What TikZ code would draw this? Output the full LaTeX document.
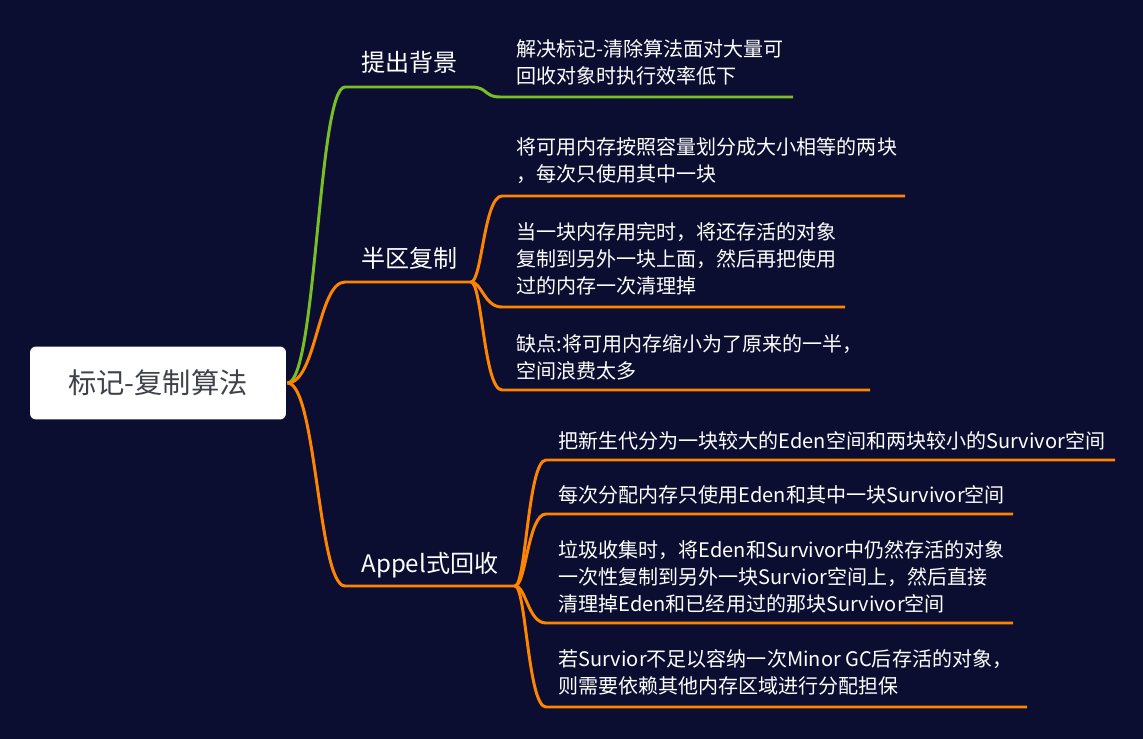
\documentclass[tikz,border=0pt]{standalone}
\usepackage{fontspec}
\setmainfont{Noto Sans CJK SC}
\usetikzlibrary{positioning}

\definecolor{bgnavy}{RGB}{11,14,48}
\definecolor{rootgray}{RGB}{64,66,74}
\definecolor{branchgreen}{RGB}{122,190,38}
\definecolor{branchorange}{RGB}{255,133,0}

\begin{document}
\begin{tikzpicture}[x=0.02cm, y=-0.02cm, line width=1.7pt,
        rootbox/.style={fill=white, draw=none, rounded corners=0.12cm, minimum width=5.12cm,
            minimum height=1.46cm, text=rootgray, font=\fontsize{16.1}{19}\selectfont},
        topic/.style={anchor=west, inner sep=0pt, text=white, font=\fontsize{13.7}{16}\selectfont},
        leaf/.style={anchor=west, inner sep=0pt, text=white, align=left,
            font=\fontsize{11.4}{15.4}\selectfont},
        greenline/.style={draw=branchgreen},
        orangeline/.style={draw=branchorange}]
        % 背景
        \fill[bgnavy] (0,0) rectangle (1143,739);

        % 中心主题
        \node[rootbox] (root) at (158,383) {标记-复制算法};

        % 一级主题
        \node[topic] (bg) at (360,62) {提出背景};
        \node[topic] (bq) at (360,258) {半区复制};
        \node[topic] (ap) at (360,565) {Appel式回收};
        \coordinate (bgL) at (345,87);  \coordinate (bgR) at (471,87);
        \coordinate (bqL) at (345,282); \coordinate (bqR) at (471,282);
        \coordinate (apL) at (345,586); \coordinate (apR) at (515,586);

        % 中心 -> 一级
        \draw[greenline] (root.east) .. controls +(29,0) and +(-27,0) .. (bgL) -- (bgR);
        \draw[orangeline] (root.east) .. controls +(29,0) and +(-27,0) .. (bqL) -- (bqR);
        \draw[orangeline] (root.east) .. controls +(29,0) and +(-27,0) .. (apL) -- (apR);

        % 提出背景
        \node[leaf] (bg1) at (515,62) {解决标记-清除算法面对大量可\\回收对象时执行效率低下};
        \coordinate (bg1L) at (500,97); \coordinate (bg1R) at (793,97);
        \draw[greenline] (bgR) .. controls +(17,0) and +(-16,0) .. (bg1L) -- (bg1R);

        % 半区复制
        \node[leaf] (bq1) at (515,161) {将可用内存按照容量划分成大小相等的两块\\，每次只使用其中一块};
        \node[leaf] (bq2) at (515,259) {当一块内存用完时，将还存活的对象\\复制到另外一块上面，然后再把使用\\过的内存一次清理掉};
        \node[leaf] (bq3) at (515,357) {缺点:将可用内存缩小为了原来的一半，\\空间浪费太多};
        \coordinate (bq1L) at (502,196); \coordinate (bq1R) at (905,196);
        \coordinate (bq2L) at (502,307); \coordinate (bq2R) at (845,307);
        \coordinate (bq3L) at (502,390); \coordinate (bq3R) at (870,390);
        \foreach \k in {1,2,3}
            \draw[orangeline] (bqR) .. controls +(11,0) and +(-18,0) .. (bq\k L) -- (bq\k R);

        % Appel式回收
        \node[leaf] (ap1) at (557,441) {把新生代分为一块较大的Eden空间和两块较小的Survivor空间};
        \node[leaf] (ap2) at (557,495) {每次分配内存只使用Eden和其中一块Survivor空间};
        \node[leaf] (ap3) at (557,577) {垃圾收集时，将Eden和Survivor中仍然存活的对象\\一次性复制到另外一块Survior空间上，然后直接\\清理掉Eden和已经用过的那块Survivor空间};
        \node[leaf] (ap4) at (557,672) {若Survior不足以容纳一次Minor GC后存活的对象，\\则需要依赖其他内存区域进行分配担保};
        \coordinate (ap1L) at (546,460); \coordinate (ap1R) at (1115,460);
        \coordinate (ap2L) at (546,514); \coordinate (ap2R) at (1013,514);
        \coordinate (ap3L) at (546,623); \coordinate (ap3R) at (1013,623);
        \coordinate (ap4L) at (546,707); \coordinate (ap4R) at (1027,707);
        \foreach \k in {1,2,3,4}
            \draw[orangeline] (apR) .. controls +(11,0) and +(-18,0) .. (ap\k L) -- (ap\k R);

    \end{tikzpicture}
\end{document}
